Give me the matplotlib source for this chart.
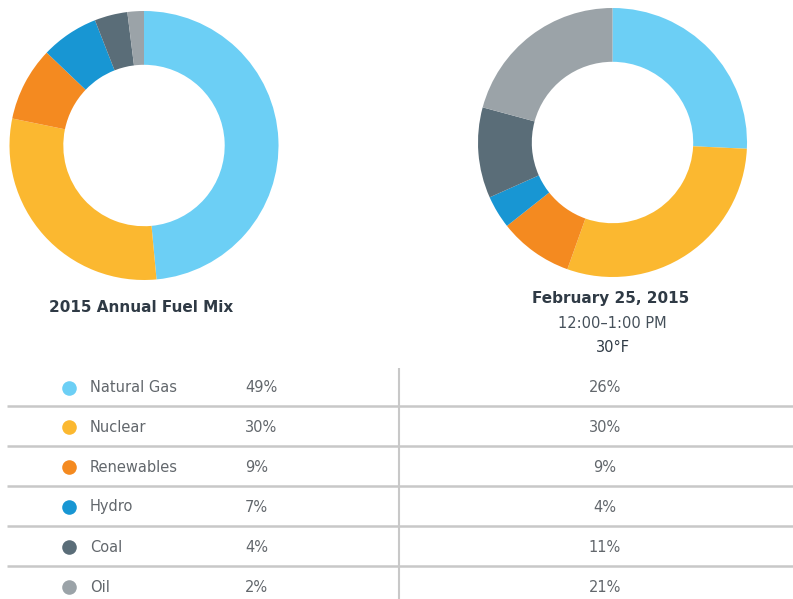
import matplotlib
matplotlib.use("Agg")
import matplotlib.pyplot as plt

categories = ["Natural Gas", "Nuclear", "Renewables", "Hydro", "Coal", "Oil"]
annual_2015 = [49, 30, 9, 7, 4, 2]
feb_25_2015 = [26, 30, 9, 4, 11, 21]
annual_labels = ["49%", "30%", "9%", "7%", "4%", "2%"]
feb_labels = ["26%", "30%", "9%", "4%", "11%", "21%"]
colors = ["#6ccff5", "#fbb830", "#f48a20", "#1896d3", "#5a6d78", "#9ba3a8"]

W, H = 793, 599
fig = plt.figure(figsize=(W / 100, H / 100), dpi=100)
fig.patch.set_facecolor("white")

def donut(cx, cy, r, values):
    ax = fig.add_axes([(cx - r) / W, 1 - (cy + r) / H, 2 * r / W, 2 * r / H])
    ax.pie(values, colors=colors, startangle=90, counterclock=False,
           radius=1.0, wedgeprops=dict(width=0.4, edgecolor="none"))
    ax.set_xlim(-1, 1)
    ax.set_ylim(-1, 1)
    ax.set_aspect("equal")
    ax.axis("off")
    return ax

donut(144, 145.5, 134.5, annual_2015)
donut(612.5, 142.5, 134.5, feb_25_2015)

# overlay axes in pixel coords
ov = fig.add_axes([0, 0, 1, 1])
ov.set_xlim(0, W)
ov.set_ylim(H, 0)
ov.axis("off")

title_color = "#2f3a45"
text_color = "#62676c"
ov.text(141, 307, "2015 Annual Fuel Mix", ha="center", va="center",
        fontsize=11, fontweight="heavy", color=title_color, family="DejaVu Sans")
ov.text(611, 298, "February 25, 2015", ha="center", va="center",
        fontsize=11, fontweight="heavy", color=title_color, family="DejaVu Sans")
ov.text(612, 323, "12:00\u20131:00 PM", ha="center", va="center",
        fontsize=10.5, color="#45505a", family="DejaVu Sans")
ov.text(613, 347, "30\u00b0F", ha="center", va="center",
        fontsize=10.5, color=title_color, family="DejaVu Sans")

row_y = [388, 427, 467, 507, 547, 587]
line_y = [406, 446, 486, 526, 566]
line_col = "#c8c8c8"
for y in line_y:
    ov.plot([7, W], [y, y], color=line_col, lw=1.8, solid_capstyle="butt")
ov.plot([399, 399], [368, H], color=line_col, lw=1.5, solid_capstyle="butt")

for i, cat in enumerate(categories):
    y = row_y[i]
    ov.plot(69, y, marker="o", markersize=10.5, color=colors[i], markeredgewidth=0)
    ov.text(90, y, cat, ha="left", va="center", fontsize=10.5, color=text_color,
            family="DejaVu Sans")
    ov.text(245, y, annual_labels[i], ha="left", va="center", fontsize=10.5,
            color=text_color, family="DejaVu Sans")
    ov.text(605, y, feb_labels[i], ha="center", va="center", fontsize=10.5,
            color=text_color, family="DejaVu Sans")

fig.savefig("out.png", dpi=100, facecolor="white")
